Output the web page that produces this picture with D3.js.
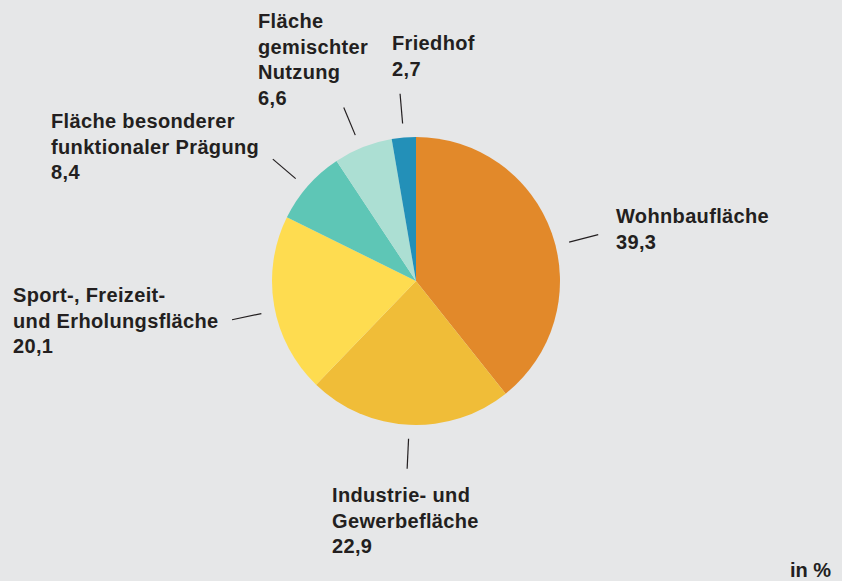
<!DOCTYPE html>
<html>
<head>
<meta charset="utf-8">
<script src="https://cdn.jsdelivr.net/npm/d3@7"></script>
<style>
  html, body { margin: 0; padding: 0; background: #e6e7e8; }
  svg { display: block; }
  text { font-family: "Liberation Sans", Arial, sans-serif; fill: #231f20; }
</style>
</head>
<body>
<div id="chart"></div>
<script>
// Flächenanteile in %
const categories = ["Wohnbaufläche", "Industrie- und Gewerbefläche", "Sport-, Freizeit- und Erholungsfläche",
    "Fläche besonderer funktionaler Prägung", "Fläche gemischter Nutzung", "Friedhof"];
const values = [39.3, 22.9, 20.1, 8.4, 6.6, 2.7];
const labelLines = [
    ["Wohnbaufläche"],
    ["Industrie- und", "Gewerbefläche"],
    ["Sport-, Freizeit-", "und Erholungsfläche"],
    ["Fläche besonderer", "funktionaler Prägung"],
    ["Fläche", "gemischter", "Nutzung"],
    ["Friedhof"]
];
const colors = ["#e2892a", "#f0bd38", "#fedc50", "#5ec6b6", "#acdfd3", "#2390b8"];

// layout: where each label block starts (x of text, baseline of first line)
const labelPos = [[616, 223], [332, 502], [13, 302], [51, 128], [258, 28], [392, 50]];
// small nudge of the leader line angle (degrees)
const leaderNudge = [5, 0, -2, -1, -1, 0];

const width = 842, height = 581;
const cx = 416, cy = 281, radius = 144;
const lineHeight = 25.5;

const svg = d3.select("#chart")
    .append("svg")
    .attr("width", width)
    .attr("height", height);

const data = categories.map((c, i) => ({
    name: c, value: values[i], lines: labelLines[i], color: colors[i],
    pos: labelPos[i], nudge: leaderNudge[i] * Math.PI / 180
}));

const pie = d3.pie()
    .sort(null)
    .value(d => d.value);

const arc = d3.arc()
    .innerRadius(0)
    .outerRadius(radius);

const arcs = pie(data);

const g = svg.append("g")
    .attr("transform", "translate(" + cx + "," + cy + ")");

g.selectAll("path")
    .data(arcs)
    .enter().append("path")
    .attr("d", arc)
    .attr("fill", d => d.data.color);

// leader lines along the middle angle of each slice
function pt(d, r) {
    const a = (d.startAngle + d.endAngle) / 2 + d.data.nudge;
    return [Math.sin(a) * r, -Math.cos(a) * r];
}

g.selectAll("line.leader")
    .data(arcs)
    .enter().append("line")
    .attr("class", "leader")
    .attr("x1", d => pt(d, radius + 14)[0])
    .attr("y1", d => pt(d, radius + 14)[1])
    .attr("x2", d => pt(d, radius + 44)[0])
    .attr("y2", d => pt(d, radius + 44)[1])
    .attr("stroke", "#231f20")
    .attr("stroke-width", 1.2);

const labels = svg.selectAll("text.label")
    .data(data)
    .enter().append("text")
    .attr("class", "label")
    .attr("x", d => d.pos[0])
    .attr("y", d => d.pos[1])
    .style("font-size", "20px")
    .style("font-weight", "700")
    .style("letter-spacing", "0.35px");

labels.each(function(d) {
    const t = d3.select(this);
    d.lines.concat([d3.format(".1f")(d.value).replace(".", ",")]).forEach((ln, i) => {
        t.append("tspan")
            .attr("x", d.pos[0])
            .attr("dy", i === 0 ? 0 : lineHeight)
            .text(ln);
    });
});

svg.append("text")
    .attr("x", 831)
    .attr("y", 577)
    .attr("text-anchor", "end")
    .style("font-size", "20px")
    .style("font-weight", "700")
    .text("in %");
</script>
</body>
</html>
